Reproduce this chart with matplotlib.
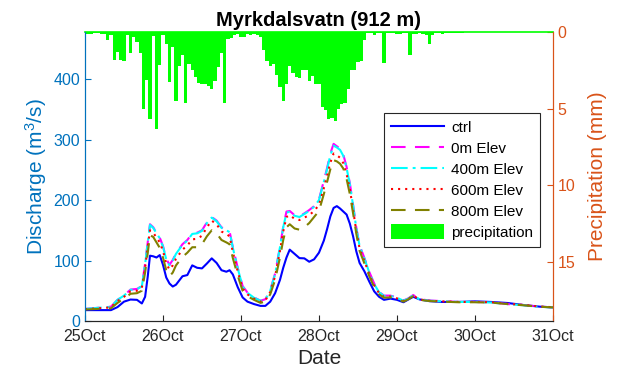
import numpy as np
import matplotlib
matplotlib.use("Agg")
import matplotlib.pyplot as plt
from matplotlib.patches import Patch

plt.rcParams['font.family'] = ['Liberation Sans', 'DejaVu Sans']
plt.rcParams['mathtext.fontset'] = 'custom'
plt.rcParams['mathtext.rm'] = 'Liberation Sans'
plt.rcParams['mathtext.it'] = 'Liberation Sans:italic'

# hours since 25 Oct 00:00
hours = [0, 8, 10, 12, 14, 16, 17.5, 18.5, 19.3, 20, 21, 22, 23, 24, 25, 26, 27, 28,
         30, 31.5, 33, 34.5, 36, 37.5, 39, 40.5, 42, 43.5, 44.5, 45.5, 47, 48.5, 50,
         52, 54, 55.5, 57, 58.5, 60, 61, 62, 63, 64.5, 66, 67.5, 69, 70.5, 72, 73.5,
         74.5, 75.5, 76.5, 77.5, 78.5, 79.5, 80.5, 81.5, 82.5, 83.5, 84.5, 86, 87.5,
         89, 90.5, 92, 94, 96, 98, 99.5, 101, 103, 106, 110, 115, 120, 125, 130, 135,
         140, 144]

ctrl = [18, 18, 23, 32, 35.5, 35, 29, 40, 73, 108, 107, 105, 109, 93, 72, 62, 57, 60,
        74, 76, 92, 88, 87, 95, 103.6, 96, 84, 81.5, 84, 77, 56, 39, 32,
        28, 25, 25, 32, 46, 68, 88, 105, 118, 111, 104, 103.6, 98, 102, 113, 133,
        152, 173, 187, 190, 186, 181, 176, 161, 140, 115, 96, 82, 65,
        49, 40, 35, 37, 35, 31, 35.6, 40, 35.6, 32.8, 31.5, 31.5, 32.5, 31.5, 29.8, 26.4,
        23.7, 22.6]

elev0 = [20, 23.7, 35, 42, 52, 53, 58, 95, 130, 160, 155, 146, 138, 124, 103, 93, 101, 112,
         127, 134, 145, 146, 150, 163, 172, 166, 155, 151, 148, 122, 88, 58, 47,
         39, 33.6, 36, 51, 78.5, 123, 156, 181, 182, 175, 173, 178, 183.5, 190, 201, 232,
         253, 277, 293, 289, 285, 275, 255, 228, 192, 154, 125, 104, 81,
         62, 48, 42, 42, 39, 34, 37.5, 43, 36, 34, 32.8, 31.5, 31.5, 31, 28, 26.4,
         23.7, 22.6]

elev400 = [20, 23.5, 35, 42, 51.5, 52.5, 57.5, 94, 129, 159, 154, 145, 137, 123, 102, 92, 100, 111,
           126, 133, 144, 145, 149, 162, 171, 165, 154, 150, 147, 121, 87, 57, 46.5,
           38.5, 33.5, 35.5, 50, 77.5, 122, 155, 179, 181, 174, 172, 177, 182, 189, 200, 230,
           251, 274, 290, 287, 283, 273, 253, 226, 191, 153, 124, 103, 80,
           61, 47.5, 41.5, 41.5, 38.5, 33.5, 37, 42.5, 35.5, 33.5, 32.5, 31.5, 31.5, 30.5, 28, 26,
           23.5, 22.4]

elev600 = [19.5, 22.5, 33, 40, 49, 50, 55, 88, 122, 150, 146, 138, 130, 116, 95, 85, 92, 103,
           118, 125, 135, 136, 141, 155, 166, 160, 148, 144, 140, 114, 82, 54, 44,
           37, 32, 34, 48, 74, 116, 148, 172, 175, 169, 167, 171, 175, 182, 192, 220,
           240, 262, 277, 274, 270, 261, 243, 218, 184, 148, 120, 99, 77,
           59, 46, 40, 40.5, 37.5, 33, 36.5, 42, 35.5, 33.5, 32.5, 31.5, 31.5, 31, 28.5, 26.5,
           24, 22.8]

elev800 = [19, 21, 30, 37, 45, 46, 50, 80, 112, 142, 139, 130, 121, 105, 84, 74, 80, 92,
           106, 113, 122, 122, 127, 140, 150, 145, 134, 130, 127, 104, 75, 50, 41,
           35, 30, 32, 44, 68, 105, 134, 155, 160, 153, 151, 155, 162, 172, 182, 210,
           230, 251, 266, 264, 260, 252, 235, 210, 178, 144, 116, 95, 74,
           56, 44, 38.5, 39, 36.5, 32, 36, 41, 35, 33, 32, 31, 31, 30.5, 28, 26,
           23.5, 22.5]

# hourly precipitation (mm), one value per hour 0..144
precip = [0.1, 0.15, 0.1, 0.05, 0.05, 0.1, 0.1, 0.5, 0.2, 1.8,
          1.3, 1.8, 1.9, 0.2, 1.4, 0.3, 0.65, 1.4, 5.0, 3.1,
          5.65, 0.26, 6.3, 2.15, 0.2, 0.8, 3.26, 1.0, 4.5, 2.2,
          1.5, 4.6, 2.1, 2.5, 2.95, 3.3, 3.4, 3.4, 3.5, 3.7,
          3.2, 2.3, 1.4, 4.6, 0.43, 0.4, 0.17, 0.13, 0.35, 0.35,
          0.13, 0.17, 0.1, 0.17, 0.35, 1.15, 1.9, 2.2, 2.1, 2.8,
          3.6, 4.5, 3.4, 2.2, 2.7, 2.95, 3.0, 2.5, 2.5, 3.2,
          2.9, 3.4, 3.4, 4.9, 5.1, 5.65, 5.6, 5.8, 5.0, 4.7,
          4.6, 3.75, 2.5, 2.45, 1.96, 1.9, 0.5, 0.05, 0.05, 0.17,
          0.05, 0.05, 2.0, 0.05, 0.05, 0.05, 0.13, 0.1, 0.05, 0.05,
          1.5, 0.1, 0.1, 0.05, 0.1, 0.17, 0.8, 0.17, 0.08, 0.05,
          0.1, 0.05, 0.08, 0.05, 0.05, 0.08, 0.05, 0.02, 0.03, 0.02,
          0.02, 0.03, 0.02, 0.02, 0.03, 0.02, 0.02, 0.03, 0.02, 0.02,
          0.03, 0.02, 0.02, 0.03, 0.02, 0.02, 0.03, 0.02, 0.02, 0.03,
          0.02, 0.02, 0.03, 0.02, 0.02]
precip_hours = np.arange(len(precip))

tick_hours = [0, 24, 48, 72, 96, 120, 144]
tick_labels = ["25Oct", "26Oct", "27Oct", "28Oct", "29Oct", "30Oct", "31Oct"]

blue_ax = (0, 0.447, 0.741)
orange_ax = (0.85, 0.325, 0.098)
dark = (0.15, 0.15, 0.15)
green = (0, 1, 0)

fig = plt.figure(figsize=(6.19, 3.75), dpi=100)
ax = fig.add_axes([0.1373, 0.144, 0.756, 0.7707])
ax2 = ax.twinx()
ax.set_zorder(ax2.get_zorder() + 1)
ax.patch.set_visible(False)

# precipitation hangs from the top on a reversed right axis
ax2.bar(precip_hours, precip, width=1.0, color=green, linewidth=0,
        align='center', zorder=3)
ax2.set_ylim(18.85, 0)
ax2.set_yticks([0, 5, 10, 15])

lw = 1.5
ax.plot(hours, ctrl, color=(0, 0, 1), lw=lw, label='ctrl')
ax.plot(hours, elev0, color=(1, 0, 1), lw=lw, dashes=[7, 4.5], label='0m Elev')
ax.plot(hours, elev400, color=(0, 1, 1), lw=lw, dashes=[8, 2.4, 1.4, 2.4], label='400m Elev')
ax.plot(hours, elev600, color=(1, 0, 0), lw=lw, dashes=[1, 2.4], label='600m Elev')
ax.plot(hours, elev800, color=(0.5, 0.5, 0), lw=lw, dashes=[7, 4.5], label='800m Elev')

ax.set_xlim(0, 144)
ax.set_ylim(0, 478)
ax.set_yticks([0, 100, 200, 300, 400])
ax.set_xticks(tick_hours)
ax.set_xticklabels(tick_labels)

ax.tick_params(axis='x', direction='in', length=4, width=0.8, colors=dark, labelsize=11.5, pad=6)
ax.tick_params(axis='y', direction='in', length=4, width=0.8, colors=blue_ax, labelsize=11.5)
ax2.tick_params(axis='y', direction='in', length=4, width=0.8, colors=orange_ax, labelsize=11.5)

for a in (ax, ax2):
    a.spines['left'].set_color(blue_ax)
    a.spines['right'].set_color(orange_ax)
    a.spines['bottom'].set_color(dark)
    for s in a.spines.values():
        s.set_linewidth(0.8)
ax.spines['top'].set_visible(False)
ax2.spines['top'].set_color(green)
ax2.spines['top'].set_linewidth(1.2)

ax.set_ylabel('Discharge (m$^3$/s)', color=blue_ax, fontsize=15, labelpad=3)
ax2.set_ylabel('Precipitation (mm)', color=orange_ax, fontsize=15, labelpad=9)
ax.set_xlabel('Date', color=dark, fontsize=15, labelpad=3)
ax.set_title('Myrkdalsvatn (912 m)', fontsize=14.5, fontweight='bold', pad=4)

handles, labels = ax.get_legend_handles_labels()
handles.append(Patch(facecolor=green, edgecolor='none'))
labels.append('precipitation')
leg = ax.legend(handles, labels, loc='upper right', bbox_to_anchor=(0.972, 0.72),
                fontsize=11, handlelength=3.5, handleheight=1.1, labelspacing=0.35,
                handletextpad=0.45, borderpad=0.45, borderaxespad=0, fancybox=False,
                framealpha=1, edgecolor=(0.15, 0.15, 0.15))
leg.get_frame().set_linewidth(0.8)

fig.savefig('out.png', dpi=100)
